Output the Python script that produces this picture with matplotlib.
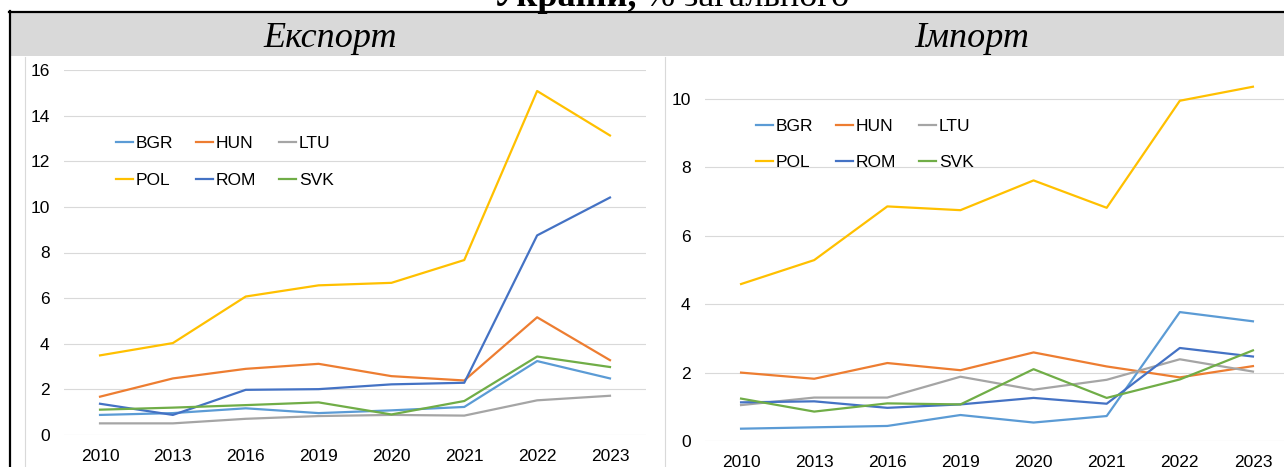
import matplotlib.pyplot as plt
from matplotlib.patches import Rectangle
from matplotlib.lines import Line2D

years = ['2010', '2013', '2016', '2019', '2020', '2021', '2022', '2023']
countries = ['BGR', 'HUN', 'LTU', 'POL', 'ROM', 'SVK']
colors = ['#5B9BD5', '#ED7D31', '#A5A5A5', '#FFC000', '#4472C4', '#70AD47']

# export shares, %
exp_bgr = [0.88, 0.96, 1.17, 0.96, 1.08, 1.23, 3.24, 2.48]
exp_hun = [1.68, 2.48, 2.90, 3.12, 2.58, 2.39, 5.16, 3.28]
exp_ltu = [0.51, 0.51, 0.71, 0.83, 0.88, 0.85, 1.52, 1.72]
exp_pol = [3.49, 4.03, 6.07, 6.56, 6.67, 7.67, 15.08, 13.13]
exp_rom = [1.37, 0.88, 1.98, 2.01, 2.22, 2.29, 8.75, 10.41]
exp_svk = [1.11, 1.20, 1.31, 1.43, 0.90, 1.49, 3.44, 2.98]

# import shares, %
imp_bgr = [0.36, 0.40, 0.44, 0.76, 0.54, 0.73, 3.77, 3.50]
imp_hun = [2.00, 1.82, 2.28, 2.07, 2.59, 2.18, 1.86, 2.19]
imp_ltu = [1.05, 1.27, 1.27, 1.88, 1.50, 1.79, 2.39, 2.03]
imp_pol = [4.59, 5.29, 6.86, 6.75, 7.62, 6.82, 9.95, 10.36]
imp_rom = [1.13, 1.16, 0.97, 1.07, 1.26, 1.09, 2.72, 2.47]
imp_svk = [1.24, 0.86, 1.10, 1.07, 2.10, 1.26, 1.80, 2.65]

export = [exp_bgr, exp_hun, exp_ltu, exp_pol, exp_rom, exp_svk]
imports = [imp_bgr, imp_hun, imp_ltu, imp_pol, imp_rom, imp_svk]

W, H = 1284, 467
SANS = 'Liberation Sans'
SERIF = 'Liberation Serif'


def box(x0, y0, x1, y1):
    # pixel rectangle (from top-left) -> figure fraction
    return [x0 / W, 1 - y1 / H, (x1 - x0) / W, (y1 - y0) / H]


def fx(x):
    return x / W


def fy(y):
    return 1 - y / H


fig = plt.figure(figsize=(W / 100, H / 100), dpi=100)

# table frame and grey header
fig.patches.append(Rectangle((fx(10), fy(56)), 1, fy(12) - fy(56), transform=fig.transFigure,
                             facecolor='#D9D9D9', edgecolor='none'))
fig.lines.append(Line2D([fx(9), 1], [fy(11.5), fy(11.5)], transform=fig.transFigure, color='black', lw=1.6))
fig.lines.append(Line2D([fx(9.5), fx(9.5)], [fy(11), 0], transform=fig.transFigure, color='black', lw=1.6))
for xb in [24.5, 665]:
    fig.lines.append(Line2D([fx(xb), fx(xb)], [fy(57), 0], transform=fig.transFigure, color='#D9D9D9', lw=0.8))

# cut-off caption above the table
fig.text(fx(637), fy(6), 'України,', ha='right', va='baseline', fontsize=26, fontweight='bold', family=SERIF)
fig.text(fx(645), fy(6), '% загального', ha='left', va='baseline', fontsize=26, family=SERIF)

fig.text(fx(330), fy(47), 'Експорт', ha='center', va='baseline', fontsize=26, style='italic', family=SERIF)
fig.text(fx(972), fy(47), 'Імпорт', ha='center', va='baseline', fontsize=26, style='italic', family=SERIF)


def draw(ax, data, ymax, yticks, legend_anchor, lspace):
    x = range(len(years))
    handles = []
    for name, vals, c in zip(countries, data, colors):
        h, = ax.plot(x, vals, color=c, lw=1.6, label=name)
        handles.append(h)
    ax.set_xlim(-0.5, len(years) - 0.5)
    ax.set_ylim(0, ymax)
    ax.set_yticks(yticks)
    ax.set_xticks(list(x))
    ax.set_xticklabels(years)
    ax.grid(axis='y', color='#D9D9D9', lw=0.8)
    ax.set_axisbelow(True)
    for s in ax.spines.values():
        s.set_visible(False)
    ax.tick_params(length=0, labelsize=12.5)
    ax.tick_params(axis='x', pad=10)
    ax.tick_params(axis='y', pad=10)
    for lab in ax.get_xticklabels() + ax.get_yticklabels():
        lab.set_family(SANS)
    # row-major order for a 3-column legend
    order = [0, 3, 1, 4, 2, 5]
    leg = ax.legend([handles[i] for i in order], [countries[i] for i in order], ncol=3,
                    frameon=False, loc='upper left', bbox_to_anchor=legend_anchor,
                    bbox_transform=fig.transFigure, handlelength=1.0, handletextpad=0.15,
                    columnspacing=1.3, labelspacing=lspace, borderaxespad=0, borderpad=0,
                    prop={'family': SANS, 'size': 12.5})
    return leg


ax1 = fig.add_axes(box(63.6, 70, 646.4, 435))
draw(ax1, export, 16, [0, 2, 4, 6, 8, 10, 12, 14, 16], (fx(116), fy(136)), 1.25)

ax2 = fig.add_axes(box(704.5, 58, 1289.5, 441))
draw(ax2, imports, 11.2, [0, 2, 4, 6, 8, 10], (fx(756), fy(119)), 1.2)

fig.savefig('out.png', dpi=100)
